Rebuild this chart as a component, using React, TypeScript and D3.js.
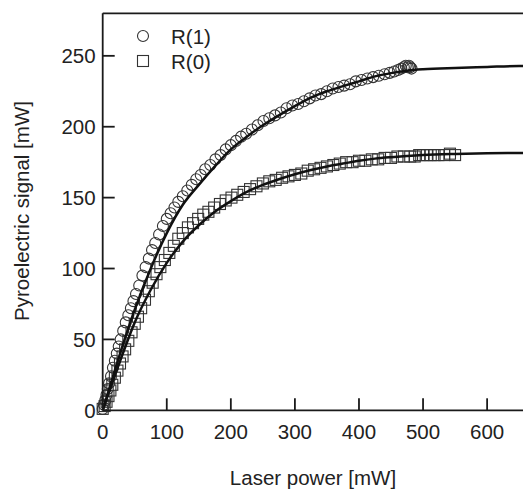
import * as d3 from 'd3';
import { useEffect, useRef } from 'react';

// measured points, R(1) (circles)
const r1Power = [0, 2, 4, 6, 8, 10, 13, 16, 19, 22, 25, 28, 32, 36, 40, 44, 48, 52, 57, 62, 67, 72, 77, 82, 88, 94, 100, 106, 112, 118, 125, 132, 139, 146, 153, 160, 168, 176, 184, 192, 200, 208, 216, 224, 233, 242, 251, 260, 269, 278, 287, 296, 305, 314, 323, 332, 341, 350, 359, 368, 377, 386, 395, 404, 413, 422, 431, 440, 448, 455, 461, 466, 470, 473, 476, 478, 480, 482];
const r1Signal = [1, 4, 7, 11, 15, 19, 24, 30, 35, 40, 45, 50, 56, 62, 67, 72, 77, 82, 88, 95, 101, 107, 113, 118, 124, 130, 135, 139, 143, 147, 151, 155, 159, 163, 166, 170, 173, 177, 180, 184, 187, 190, 193, 195, 198, 201, 204, 206, 208, 210, 213, 215, 216, 218, 220, 222, 223, 225, 227, 228, 229, 230, 232, 233, 234, 235, 236, 237, 238, 239, 240, 241, 242, 243, 242, 243, 242, 241];

// measured points, R(0) (squares)
const r0Power = [0, 3, 6, 9, 12, 15, 19, 23, 27, 31, 35, 40, 45, 50, 55, 60, 66, 72, 78, 84, 90, 97, 104, 111, 118, 125, 133, 141, 149, 157, 165, 174, 183, 192, 201, 210, 220, 230, 240, 250, 260, 270, 280, 290, 300, 310, 320, 330, 340, 350, 360, 370, 380, 390, 400, 410, 420, 430, 440, 450, 460, 470, 480, 487, 494, 500, 506, 512, 518, 524, 533, 542, 550];
const r0Signal = [1, 3, 6, 10, 14, 18, 23, 28, 33, 38, 43, 49, 55, 61, 66, 72, 78, 84, 90, 96, 101, 106, 111, 116, 121, 125, 129, 132, 135, 138, 140, 143, 145.5, 148, 150, 152, 154, 156, 158, 160, 161.5, 162.5, 164, 165, 166, 167, 169, 170, 171, 172, 173, 174, 175, 175, 176, 176, 177, 177, 178, 178, 179, 179, 179, 179, 180, 180, 180, 180, 180, 180, 180, 181, 180];

// fitted curves
const fitPower = [0, 10, 25, 50, 75, 100, 125, 150, 175, 200, 225, 250, 275, 300, 325, 350, 375, 400, 425, 450, 475, 500, 550, 600, 650, 656];
const fitR1 = [0, 15, 37, 71, 100, 125, 145, 159, 172, 184, 193, 201, 208, 214.5, 220.5, 225, 228.6, 232, 235.5, 237.8, 239.5, 240.5, 241.5, 242.2, 242.8, 242.8];
const fitR0 = [0, 13, 32, 62, 85, 104, 119, 130.5, 140, 147.5, 154, 159, 163, 166.5, 169.5, 172, 174, 176, 177.5, 178.5, 179.3, 180, 180.8, 181.3, 181.5, 181.5];

const xTicks = [0, 100, 200, 300, 400, 500, 600];
const yTicks = [0, 50, 100, 150, 200, 250];

const App = () => {
    const ref = useRef<SVGSVGElement>(null);

    useEffect(() => {
        document.body.style.margin = '0';
        const svg = d3.select(ref.current);
        svg.selectAll('*').remove();

        const width = 523;
        const height = 489;
        const font = 'Liberation Sans, Arial, sans-serif';
        const fontSize = '20.5px';

        const x = d3.scaleLinear().domain([0, 656]).range([102.7, 523]);
        const y = d3.scaleLinear().domain([0, 280]).range([410.3, 13.3]);

        svg.attr('width', width).attr('height', height);
        svg.append('rect').attr('width', width).attr('height', height).attr('fill', '#fff');

        // data markers
        const marker = '#333';
        svg.append('g')
            .selectAll('rect')
            .data(r0Power)
            .enter()
            .append('rect')
            .attr('x', (d) => x(d) - 5.5)
            .attr('y', (d, i) => y(r0Signal[i]) - 5.5)
            .attr('width', 11)
            .attr('height', 11)
            .attr('fill', 'none')
            .attr('stroke', marker)
            .attr('stroke-width', 1.1);

        svg.append('g')
            .selectAll('circle')
            .data(r1Power)
            .enter()
            .append('circle')
            .attr('cx', (d) => x(d))
            .attr('cy', (d, i) => y(r1Signal[i]))
            .attr('r', 5.5)
            .attr('fill', 'none')
            .attr('stroke', marker)
            .attr('stroke-width', 1.1);

        // fit lines
        const line = d3.line<number>()
            .x((d) => x(d))
            .curve(d3.curveMonotoneX);
        svg.append('path')
            .attr('d', line.y((d, i) => y(fitR1[i]))(fitPower))
            .attr('fill', 'none')
            .attr('stroke', '#111')
            .attr('stroke-width', 2.5);
        svg.append('path')
            .attr('d', line.y((d, i) => y(fitR0[i]))(fitPower))
            .attr('fill', 'none')
            .attr('stroke', '#111')
            .attr('stroke-width', 2.5);

        // axes frame
        const axisColor = '#1a1a1a';
        svg.append('line')
            .attr('x1', x(0)).attr('x2', x(0))
            .attr('y1', y(280)).attr('y2', y(0))
            .attr('stroke', axisColor).attr('stroke-width', 1.8);
        svg.append('line')
            .attr('x1', x(0)).attr('x2', 523)
            .attr('y1', y(0)).attr('y2', y(0))
            .attr('stroke', axisColor).attr('stroke-width', 1.8);
        svg.append('line')
            .attr('x1', x(0)).attr('x2', 523)
            .attr('y1', y(280)).attr('y2', y(280))
            .attr('stroke', axisColor).attr('stroke-width', 1.8);

        // ticks (inward)
        svg.append('g')
            .selectAll('line')
            .data(xTicks.filter((d) => d > 0))
            .enter()
            .append('line')
            .attr('x1', (d) => x(d)).attr('x2', (d) => x(d))
            .attr('y1', y(0)).attr('y2', y(0) - 12)
            .attr('stroke', axisColor).attr('stroke-width', 1.8);
        svg.append('g')
            .selectAll('line')
            .data(yTicks.filter((d) => d > 0))
            .enter()
            .append('line')
            .attr('x1', x(0)).attr('x2', x(0) + 12)
            .attr('y1', (d) => y(d)).attr('y2', (d) => y(d))
            .attr('stroke', axisColor).attr('stroke-width', 1.8);

        // tick labels
        svg.append('g')
            .selectAll('text')
            .data(xTicks)
            .enter()
            .append('text')
            .attr('x', (d) => x(d))
            .attr('y', y(0) + 29)
            .attr('text-anchor', 'middle')
            .style('font-size', fontSize)
            .style('font-family', font)
            .style('fill', '#222')
            .text((d) => d);
        svg.append('g')
            .selectAll('text')
            .data(yTicks)
            .enter()
            .append('text')
            .attr('x', x(0) - 7)
            .attr('y', (d) => y(d) + 7.5)
            .attr('text-anchor', 'end')
            .style('font-size', fontSize)
            .style('font-family', font)
            .style('fill', '#222')
            .text((d) => d);

        // axis titles
        svg.append('text')
            .attr('x', 313)
            .attr('y', 485)
            .attr('text-anchor', 'middle')
            .style('font-size', fontSize)
            .style('font-family', font)
            .style('fill', '#222')
            .text('Laser power [mW]');
        svg.append('text')
            .attr('transform', 'rotate(-90)')
            .attr('x', -211)
            .attr('y', 29)
            .attr('text-anchor', 'middle')
            .style('font-size', fontSize)
            .style('font-family', font)
            .style('fill', '#222')
            .text('Pyroelectric signal [mW]');

        // legend
        const legend = svg.append('g');
        legend.append('circle')
            .attr('cx', 143).attr('cy', 36).attr('r', 5.5)
            .attr('fill', 'none').attr('stroke', marker).attr('stroke-width', 1.1);
        legend.append('rect')
            .attr('x', 137.5).attr('y', 55.5).attr('width', 11).attr('height', 11)
            .attr('fill', 'none').attr('stroke', marker).attr('stroke-width', 1.1);
        legend.append('text')
            .attr('x', 171).attr('y', 43.5)
            .style('font-size', fontSize).style('font-family', font).style('fill', '#222')
            .text('R(1)');
        legend.append('text')
            .attr('x', 171).attr('y', 68.5)
            .style('font-size', fontSize).style('font-family', font).style('fill', '#222')
            .text('R(0)');
    }, []);

    return <svg ref={ref} style={{ position: 'absolute', left: 0, top: 0 }}></svg>;
};

export default App;
